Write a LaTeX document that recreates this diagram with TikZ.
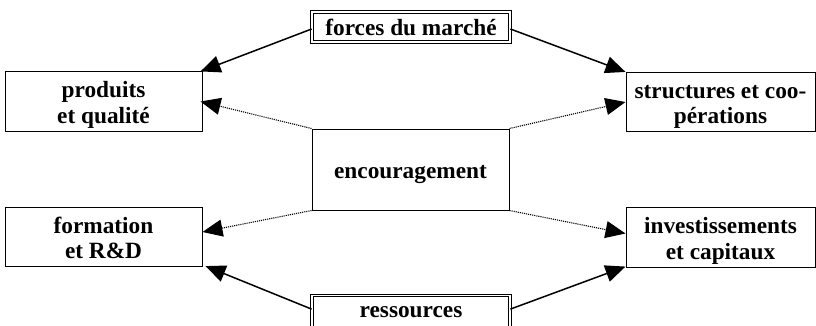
\documentclass[tikz,border=0pt]{standalone}
\usepackage{fontspec}
\setmainfont{Liberation Serif}
\usetikzlibrary{arrows.meta,calc}
\newcommand\boxtext[1]{\begin{tabular}{@{}c@{}}\rule{0pt}{26pt}#1\end{tabular}}
\begin{document}
\begin{tikzpicture}[x=1pt,y=-1pt,
  box/.style={draw,line width=1pt,inner sep=0pt,align=center,
    font=\fontsize{23.3}{25.5}\selectfont\bfseries},
  dbox/.style={box,double,double distance=1.6pt,line width=0.8pt},
  solidarrow/.style={line width=1.5pt,-{Triangle[length=20pt,width=17pt]}},
  dotarrow/.style={line width=1.1pt,dash pattern=on 1.1pt off 1pt,-{Triangle[length=20pt,width=17pt]}}]
\useasboundingbox (0,0) rectangle (816,325);
\node[box,minimum width=197pt,minimum height=55pt] (prod) at (103.5,101.5) {\boxtext{produits\\et qualité}};
\node[box,minimum width=189pt,minimum height=54pt] (struct) at (720.5,102) {\boxtext{structures et coo-\\pérations}};
\node[box,minimum width=197pt,minimum height=81pt] (enc) at (410.5,169.5) {\boxtext{encouragement}};
\node[box,minimum width=197pt,minimum height=54pt] (form) at (103.5,237) {\boxtext{formation\\et R\&D}};
\node[box,minimum width=189pt,minimum height=53pt] (inv) at (720.5,237.5) {\boxtext{investissements\\et capitaux}};
\node[dbox,minimum width=198pt,minimum height=30pt] (forces) at (411,27) {forces du marché};
\node[dbox,minimum width=198pt,minimum height=34pt] (ress) at (411,312.6) {ressources};
\draw[solidarrow] ([yshift=-2pt]forces.west) -- ([xshift=-2pt]prod.north east);
\draw[solidarrow] ([yshift=-2pt]forces.east) -- (struct.north west);
\draw[dotarrow] (enc.north west) -- ([xshift=-2pt]prod.east);
\draw[dotarrow] (enc.north east) -- (struct.west);
\draw[dotarrow] (enc.south west) -- ([yshift=5pt]form.east);
\draw[dotarrow] (enc.south east) -- ([yshift=4pt]inv.west);
\draw[solidarrow] ([yshift=3.5pt]ress.west) -- ([xshift=3pt,yshift=1pt]form.south east);
\draw[solidarrow] ([yshift=3.5pt]ress.east) -- ([yshift=1pt]inv.south west);
\end{tikzpicture}
\end{document}
